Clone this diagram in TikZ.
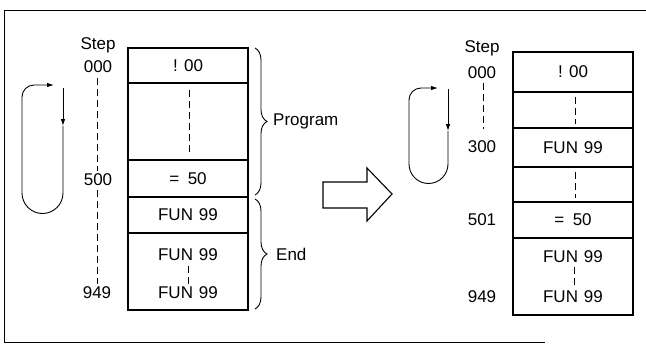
\documentclass[tikz,border=0pt]{standalone}
\usepackage{fontspec}
\setmainfont{Liberation Sans}
\usetikzlibrary{arrows.meta,decorations.pathreplacing}
\begin{document}
\begin{tikzpicture}[x=1pt,y=-1pt,
  every node/.style={font=\fontsize{17}{20}\selectfont, inner sep=0pt},
  cell/.style={draw, line width=1.1pt, minimum width=120pt},
  dsh/.style={line width=0.9pt, dash pattern=on 7pt off 4pt},
  loopline/.style={line width=0.9pt},
  tip/.style={-{Latex[length=7pt,width=4.5pt]}},
  brc/.style={decorate, decoration={brace, amplitude=12pt}, line width=0.9pt},
  lbl/.style={anchor=west}]
\useasboundingbox (0,0) rectangle (646,354);
% frame
\draw[line width=1pt] (646,10) -- (4,10) -- (4,342) -- (545,342);

% ---------- left diagram ----------
\node (ls) at (98,45) {Step};
\node (l000) at (98,67) {000};
\node (l500) at (98,180) {500};
\node (l949) at (97,293) {949};
\draw[dsh] (97,78) coordinate (ld1) -- (97,171) coordinate (ld2);
\draw[dsh] (97,190) coordinate (ld3) -- (97,284) coordinate (ld4);

\node[cell, minimum height=35pt] (L1) at (188,65.5) {! 00};
\node[cell, minimum height=77pt] (L2) at (188,121.5) {};
\node[cell, minimum height=37pt] (L3) at (188,178.5) {=\hspace{0.5em}50};
\node[cell, minimum height=36pt] (L4) at (188,215) {FUN\hspace{0.35em}99};
\node[cell, minimum height=77pt] (L5) at (188,271.5) {};
\node (L5a) at (188,255) {FUN\hspace{0.35em}99};
\node (L5b) at (188,293) {FUN\hspace{0.35em}99};
\draw[dsh] (189,90) -- (189,154);
\draw[dsh] (188,266) -- (188,284);

\draw[brc] (255,48) -- (255,195);
\node[lbl] (lprog) at (273,121) {Program};
\draw[brc] (255,199) -- (255,309);
\node[lbl] (lend) at (276,254) {End};

% loop arrow left
\draw[loopline, tip] (63,88) coordinate (la) -- (63,126) coordinate (lm);
\draw[loopline, tip] (lm) -- (63,193) arc[start angle=0, end angle=180, radius=20.5]
  [rounded corners=12pt] -- (22,85) -- (54,85);

% big hollow arrow
\draw[line width=1.1pt, line join=miter] (323,182) -- (367,182) -- (367,168) -- (392,194)
  -- (367,221) -- (367,208) -- (323,208) -- cycle;

% ---------- right diagram ----------
\node (rs) at (482,48) {Step};
\node (r000) at (482,73) {000};
\node (r300) at (482,147) {300};
\node (r501) at (482,220) {501};
\node (r949) at (482,297) {949};
\draw[dsh] (483,83) -- (483,129);

\node[cell, minimum height=40pt] (R1) at (573,72) {! 00};
\node[cell, minimum height=36pt] (R2) at (573,110) {};
\node[cell, minimum height=39pt] (R3) at (573,147.5) {FUN\hspace{0.35em}99};
\node[cell, minimum height=35pt] (R4) at (573,184.5) {};
\node[cell, minimum height=36pt] (R5) at (573,220) {=\hspace{0.5em}50};
\node[cell, minimum height=77pt] (R6) at (573,276.5) {};
\node (R6a) at (573,257) {FUN\hspace{0.35em}99};
\node (R6b) at (573,297) {FUN\hspace{0.35em}99};
\draw[dsh] (575,97) -- (575,124);
\draw[dsh] (575,172) -- (575,198);
\draw[dsh] (574,267) -- (574,286);

% loop arrow right
\draw[loopline, tip] (448,89) coordinate (ra) -- (448,131) coordinate (rm);
\draw[loopline, tip] (rm) -- (448,164) arc[start angle=0, end angle=180, radius=19.5]
  [rounded corners=12pt] -- (409,88) -- (438,88);
\end{tikzpicture}
\end{document}
